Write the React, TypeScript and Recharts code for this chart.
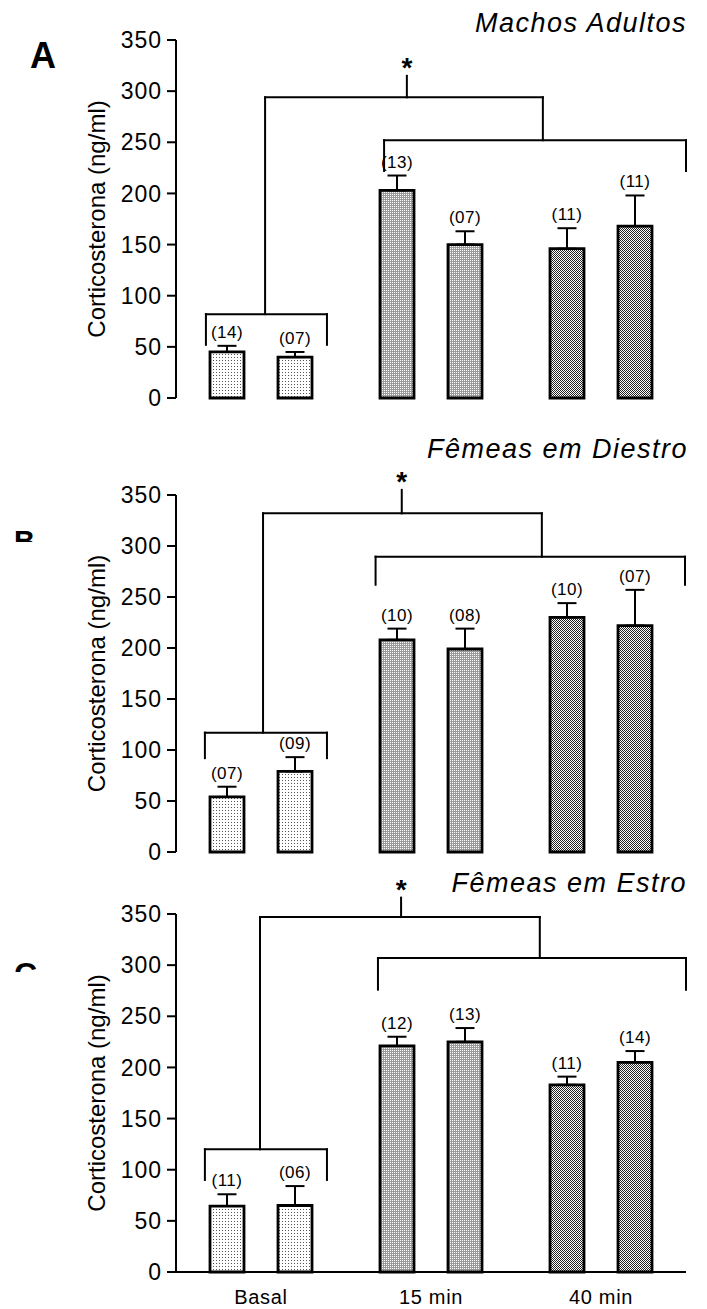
import React from 'react';
import {
  ComposedChart,
  Bar,
  Line,
  XAxis,
  YAxis,
  ErrorBar,
  Cell,
  LabelList,
  ReferenceLine,
  ReferenceDot,
} from 'recharts';

// ---- data ----
const slots = [1.5, 3.5, 6.5, 8.5, 11.5, 13.5];
const groupFill = ['url(#pBasal)', 'url(#pBasal)', 'url(#p15)', 'url(#p15)', 'url(#p40)', 'url(#p40)'];
const xTickPositions = [2.5, 7.5, 12.5];
const xTickLabels = ['Basal', '15 min', '40 min'];
const yTicks = [0, 50, 100, 150, 200, 250, 300, 350];

const machosMean = [45, 40, 203, 150, 146, 168];
const machosSem = [6, 5, 14.5, 13, 20, 30];
const machosN = ['(14)', '(07)', '(13)', '(07)', '(11)', '(11)'];

const diestroMean = [54, 79, 208, 199, 230, 222];
const diestroSem = [10, 14, 11, 20, 14, 35];
const diestroN = ['(07)', '(09)', '(10)', '(08)', '(10)', '(07)'];

const estroMean = [64.5, 65, 221, 225, 183, 205];
const estroSem = [11.5, 19, 9, 13.5, 8, 11];
const estroN = ['(11)', '(06)', '(12)', '(13)', '(11)', '(14)'];

// significance brackets (data units)
const machosBracket = { lowX: [0.88, 4.44], lowY: 82, lowLeg: 52, stemX: 2.62, topY: 294, dropX: 10.79, highX: [6.12, 15], highY: 252, highLeg: 222, starX: 6.79, starY: 315 };
const diestroBracket = { lowX: [0.85, 4.44], lowY: 117, lowLeg: 92, stemX: 2.56, topY: 332, dropX: 10.76, highX: [5.87, 14.97], highY: 289.5, highLeg: 262, starX: 6.64, starY: 355 };
const estroBracket = { lowX: [0.85, 4.44], lowY: 120, lowLeg: 90, stemX: 2.47, topY: 347, dropX: 10.7, highX: [5.94, 15], highY: 307, highLeg: 276, starX: 6.62, starY: 366 };

const FONT = '"Liberation Sans", Arial, Helvetica, sans-serif';

function seg(key: string, x1: number, y1: number, x2: number, y2: number) {
  return (
    <ReferenceLine
      key={key}
      segment={[{ x: x1, y: y1 }, { x: x2, y: y2 }]}
      stroke="#000"
      strokeWidth={2}
      strokeLinecap="square"
      ifOverflow="visible"
    />
  );
}

function bracketLines(b: any) {
  return [
    seg('l1', b.lowX[0], b.lowY, b.lowX[1], b.lowY),
    seg('l2', b.lowX[0], b.lowY, b.lowX[0], b.lowLeg),
    seg('l3', b.lowX[1], b.lowY, b.lowX[1], b.lowLeg),
    seg('s1', b.stemX, b.lowY, b.stemX, b.topY),
    seg('t1', b.stemX, b.topY, b.dropX, b.topY),
    seg('d1', b.dropX, b.topY, b.dropX, b.highY),
    seg('h1', b.highX[0], b.highY, b.highX[1], b.highY),
    seg('h2', b.highX[0], b.highY, b.highX[0], b.highLeg),
    seg('h3', b.highX[1], b.highY, b.highX[1], b.highLeg),
    seg('st', b.starX, b.topY, b.starX, b.starY),
    <ReferenceDot
      key="star"
      x={b.starX}
      y={b.starY}
      r={1}
      fill="none"
      stroke="none"
      ifOverflow="visible"
      label={{ value: '*', position: 'top', offset: -2, fontSize: 28, fill: '#000', fontWeight: 'bold' }}
    />,
  ];
}

function Panel(props: any) {
  const { mean, sem, n, br, top, height, marginTop, marginBottom, showX } = props;
  const data = slots.map((s, i) => ({
    slot: s,
    mean: mean[i],
    err: [0, sem[i]],
    top: mean[i] + sem[i],
    n: n[i],
  }));
  return (
    <div style={{ position: 'absolute', left: 0, top, width: 707, height }}>
      <ComposedChart
        width={707}
        height={height}
        data={data}
        margin={{ top: marginTop, right: 21, bottom: marginBottom, left: 16 }}
      >
        <XAxis
          dataKey="slot"
          type="number"
          domain={[0, 15]}
          ticks={xTickPositions}
          interval={0}
          tickFormatter={(v: number) => xTickLabels[xTickPositions.indexOf(v)] ?? ''}
          axisLine={{ stroke: '#000', strokeWidth: 2 }}
          tickLine={false}
          tickSize={0}
          tickMargin={18}
          tick={showX ? { fontSize: 20, fill: '#000', letterSpacing: 0.7 } : false}
          height={showX ? 30 : 0}
        />
        <YAxis
          domain={[0, 350]}
          ticks={yTicks}
          interval={0}
          width={160}
          axisLine={{ stroke: '#000', strokeWidth: 2 }}
          tickLine={{ stroke: '#000', strokeWidth: 2 }}
          tickSize={9}
          tickMargin={5}
          tick={{ fontSize: 23, fill: '#000', letterSpacing: 1 }}
          label={{ value: 'Corticosterona (ng/ml)', angle: -90, position: 'center', fontSize: 24, fill: '#000' }}
        />
        <Bar dataKey="mean" barSize={34} stroke="#000" strokeWidth={2.8} isAnimationActive={false}>
          {data.map((d, i) => (
            <Cell key={i} fill={groupFill[i]} />
          ))}
          <ErrorBar dataKey="err" width={9.5} stroke="#000" strokeWidth={2} direction="y" isAnimationActive={false} />
        </Bar>
        <Line
          dataKey="top"
          stroke="none"
          dot={false}
          activeDot={false}
          isAnimationActive={false}
          legendType="none"
        >
          <LabelList dataKey="n" position="top" offset={8} fontSize={17} fill="#000" letterSpacing={0.5} />
        </Line>
        {bracketLines(br)}
      </ComposedChart>
    </div>
  );
}

export default function App() {
  return (
    <div
      style={{
        position: 'absolute',
        left: 0,
        top: 0,
        width: 707,
        height: 1309,
        background: '#fff',
        fontFamily: FONT,
        overflow: 'hidden',
      }}
    >
      <Panel mean={machosMean} sem={machosSem} n={machosN} br={machosBracket} top={0} height={414} marginTop={40} marginBottom={16} showX={false} />
      <Panel mean={diestroMean} sem={diestroSem} n={diestroN} br={diestroBracket} top={420} height={448} marginTop={75} marginBottom={16} showX={false} />
      <Panel mean={estroMean} sem={estroSem} n={estroN} br={estroBracket} top={870} height={439} marginTop={44} marginBottom={7} showX={true} />
      <svg
        width={707}
        height={1309}
        style={{ position: 'absolute', left: 0, top: 0, pointerEvents: 'none', fontFamily: FONT }}
      >
        <defs>
          <pattern id="pBasal" width="3" height="3" patternUnits="userSpaceOnUse">
            <rect width="3" height="3" fill="#fff" />
            <rect width="1" height="1" fill="#555" />
          </pattern>
          <pattern id="p15" width="2" height="2" patternUnits="userSpaceOnUse">
            <rect width="2" height="2" fill="#9a9a9a" />
            <rect width="1" height="1" fill="#fff" />
          </pattern>
          <pattern id="p40" width="2" height="2" patternUnits="userSpaceOnUse">
            <rect width="2" height="2" fill="#fff" />
            <rect width="1" height="1" fill="#222" />
            <rect x="1" y="1" width="1" height="1" fill="#222" />
          </pattern>
          <clipPath id="clipB">
            <rect x="0" y="520" width="60" height="22" />
          </clipPath>
          <clipPath id="clipC">
            <rect x="0" y="950" width="60" height="22" />
          </clipPath>
        </defs>
        <text x={687} y={32} textAnchor="end" fontSize={27} fontStyle="italic" letterSpacing={1.5} fill="#000">
          Machos Adultos
        </text>
        <text x={688} y={458} textAnchor="end" fontSize={27} fontStyle="italic" letterSpacing={1.5} fill="#000">
          Fêmeas em Diestro
        </text>
        <text x={687} y={892} textAnchor="end" fontSize={27} fontStyle="italic" letterSpacing={1.5} fill="#000">
          Fêmeas em Estro
        </text>
        <text x={30} y={68} fontSize={36} fontWeight="bold" fill="#000">
          A
        </text>
        <g clipPath="url(#clipB)">
          <text x={14} y={551} fontSize={29} fontWeight="bold" fill="#000">
            B
          </text>
        </g>
        <g clipPath="url(#clipC)">
          <text x={14} y={985} fontSize={32} fontWeight="bold" fill="#000">
            C
          </text>
        </g>
      </svg>
    </div>
  );
}
